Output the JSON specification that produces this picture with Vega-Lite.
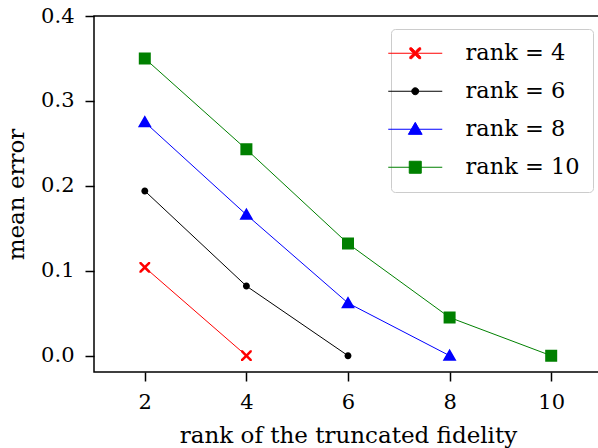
{
  "$schema": "https://vega.github.io/schema/vega-lite/v6.json",
  "width": 508,
  "height": 356,
  "autosize": "none",
  "padding": {"left": 94, "top": 16, "right": 0, "bottom": 76},
  "background": "white",
  "config": {
    "view": {"stroke": "black", "strokeWidth": 1.5},
    "font": "DejaVu Serif",
    "axis": {
      "domain": false,
      "grid": false,
      "tickColor": "black",
      "tickWidth": 1.5,
      "tickSize": 9,
      "labelFont": "DejaVu Serif",
      "labelFontSize": 21,
      "labelColor": "black",
      "titleFont": "DejaVu Serif",
      "titleFontSize": 23,
      "titleFontWeight": "normal",
      "titleColor": "black"
    }
  },
  "data": {
    "values": [
      {"series": "rank = 4", "x": 2, "y": 0.104},
      {"series": "rank = 4", "x": 4, "y": 0.0},
      {"series": "rank = 6", "x": 2, "y": 0.194},
      {"series": "rank = 6", "x": 4, "y": 0.082},
      {"series": "rank = 6", "x": 6, "y": 0.0},
      {"series": "rank = 8", "x": 2, "y": 0.275},
      {"series": "rank = 8", "x": 4, "y": 0.166},
      {"series": "rank = 8", "x": 6, "y": 0.062},
      {"series": "rank = 8", "x": 8, "y": 0.0},
      {"series": "rank = 10", "x": 2, "y": 0.350},
      {"series": "rank = 10", "x": 4, "y": 0.243},
      {"series": "rank = 10", "x": 6, "y": 0.132},
      {"series": "rank = 10", "x": 8, "y": 0.045},
      {"series": "rank = 10", "x": 10, "y": 0.0}
    ]
  },
  "encoding": {
    "x": {
      "field": "x",
      "type": "quantitative",
      "scale": {"domain": [1, 11], "nice": false, "zero": false},
      "axis": {"values": [2, 4, 6, 8, 10], "labelPadding": 10, "title": "rank of the truncated fidelity", "titlePadding": 12}
    },
    "y": {
      "field": "y",
      "type": "quantitative",
      "scale": {"domain": [-0.0192, 0.4], "nice": false, "zero": false},
      "axis": {"values": [0, 0.1, 0.2, 0.3, 0.4], "format": ".1f", "labelPadding": 11, "title": "mean error", "titlePadding": 12}
    },
    "color": {
      "field": "series",
      "type": "nominal",
      "scale": {"domain": ["rank = 4", "rank = 6", "rank = 8", "rank = 10"], "range": ["#ff0000", "#000000", "#0000ff", "#008000"]},
      "legend": {
        "title": null,
        "orient": "none",
        "legendX": 297,
        "legendY": 13,
        "symbolSize": 144,
        "symbolStrokeWidth": 1,
        "labelFont": "DejaVu Serif",
        "labelFontSize": 22.5,
        "labelColor": "black",
        "labelOffset": 39,
        "rowPadding": 15,
        "padding": 13,
        "strokeColor": "#cccccc",
        "cornerRadius": 4,
        "fillColor": "rgba(255,255,255,0.8)"
      }
    }
  },
  "layer": [
    {
      "mark": {"type": "line", "strokeWidth": 1}
    },
    {
      "mark": {"type": "point", "filled": true, "opacity": 1, "size": 144, "strokeWidth": 0},
      "encoding": {
        "stroke": {
          "field": "series",
          "type": "nominal",
          "scale": {"domain": ["rank = 4", "rank = 6", "rank = 8", "rank = 10"], "range": ["#ff0000", "#000000", "#0000ff", "#008000"]},
          "legend": {
            "title": null,
            "orient": "none",
            "legendX": 297,
            "legendY": 13,
            "symbolSize": 144,
            "symbolStrokeWidth": 1,
            "labelFont": "DejaVu Serif",
            "labelFontSize": 22.5,
            "labelColor": "black",
            "labelOffset": 39,
            "rowPadding": 15,
            "padding": 13,
            "strokeColor": "#cccccc",
            "cornerRadius": 4,
            "fillColor": "rgba(255,255,255,0.8)"
          }
        },
        "shape": {
          "field": "series",
          "type": "nominal",
          "scale": {
            "domain": ["rank = 4", "rank = 6", "rank = 8", "rank = 10"],
            "range": [
              "M-4.5,0H4.5M0,-0.3L0.6,-0.9L0.9,-0.9L0.9,-0.6L0.3,0L0.9,0.6L0.9,0.9L0.6,0.9L0,0.3L-0.6,0.9L-0.9,0.9L-0.9,0.6L-0.3,0L-0.9,-0.6L-0.9,-0.9L-0.6,-0.9Z",
              "M-4.5,0H4.5M-0.58,0A0.58,0.58,0,1,0,0.58,0A0.58,0.58,0,1,0,-0.58,0Z",
              "M-4.5,0H4.5M0,-1.15L1.15,0.85L-1.15,0.85Z",
              "M-4.5,0H4.5M-1,-1H1V1H-1Z"
            ]
          },
          "legend": {
            "title": null,
            "orient": "none",
            "legendX": 297,
            "legendY": 13,
            "symbolSize": 144,
            "symbolStrokeWidth": 1,
            "labelFont": "DejaVu Serif",
            "labelFontSize": 22.5,
            "labelColor": "black",
            "labelOffset": 39,
            "rowPadding": 15,
            "padding": 13,
            "strokeColor": "#cccccc",
            "cornerRadius": 4,
            "fillColor": "rgba(255,255,255,0.8)"
          }
        }
      }
    }
  ]
}
